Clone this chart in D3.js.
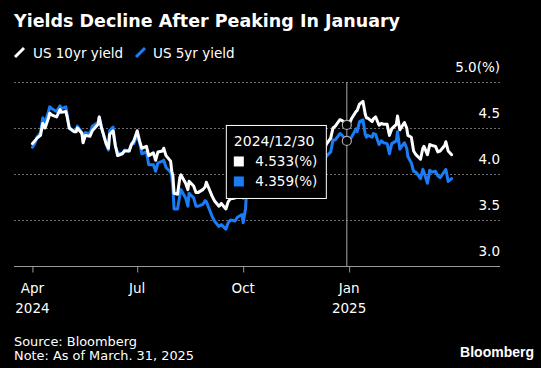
<!DOCTYPE html>
<html><head><meta charset="utf-8">
<script src="https://cdn.jsdelivr.net/npm/d3@7"></script>
<style>html,body{margin:0;padding:0;background:#000;}svg{display:block;}</style>
</head><body>
<script>
const dates = ["2024-04-01","2024-04-03","2024-04-05","2024-04-08","2024-04-10","2024-04-12","2024-04-15","2024-04-16","2024-04-18","2024-04-22","2024-04-25","2024-04-26","2024-04-30","2024-05-01","2024-05-03","2024-05-07","2024-05-09","2024-05-10","2024-05-14","2024-05-15","2024-05-17","2024-05-21","2024-05-23","2024-05-28","2024-05-29","2024-05-31","2024-06-04","2024-06-06","2024-06-07","2024-06-10","2024-06-12","2024-06-14","2024-06-18","2024-06-20","2024-06-24","2024-06-26","2024-06-28","2024-07-01","2024-07-03","2024-07-05","2024-07-09","2024-07-11","2024-07-15","2024-07-17","2024-07-19","2024-07-23","2024-07-24","2024-07-26","2024-07-30","2024-07-31","2024-08-01","2024-08-02","2024-08-05","2024-08-07","2024-08-08","2024-08-12","2024-08-14","2024-08-15","2024-08-19","2024-08-21","2024-08-23","2024-08-27","2024-08-29","2024-08-30","2024-09-04","2024-09-06","2024-09-10","2024-09-12","2024-09-16","2024-09-18","2024-09-20","2024-09-24","2024-09-26","2024-09-30","2024-10-01","2024-10-03","2024-10-04","2024-10-08","2024-10-10","2024-10-15","2024-10-17","2024-10-21","2024-10-23","2024-10-25","2024-10-28","2024-10-31","2024-11-01","2024-11-04","2024-11-06","2024-11-08","2024-11-12","2024-11-14","2024-11-15","2024-11-19","2024-11-21","2024-11-25","2024-11-27","2024-11-29","2024-12-03","2024-12-05","2024-12-06","2024-12-10","2024-12-12","2024-12-16","2024-12-18","2024-12-20","2024-12-24","2024-12-26","2024-12-30","2024-12-31","2025-01-02","2025-01-03","2025-01-07","2025-01-08","2025-01-10","2025-01-13","2025-01-15","2025-01-16","2025-01-17","2025-01-21","2025-01-22","2025-01-24","2025-01-27","2025-01-29","2025-01-31","2025-02-03","2025-02-05","2025-02-07","2025-02-11","2025-02-12","2025-02-14","2025-02-18","2025-02-20","2025-02-21","2025-02-24","2025-02-26","2025-02-28","2025-03-04","2025-03-06","2025-03-07","2025-03-10","2025-03-12","2025-03-14","2025-03-17","2025-03-19","2025-03-21","2025-03-25","2025-03-26","2025-03-28","2025-03-31"];

const us10yr = [4.33,4.36,4.39,4.42,4.55,4.50,4.61,4.66,4.64,4.62,4.70,4.67,4.68,4.63,4.50,4.46,4.46,4.50,4.44,4.34,4.42,4.41,4.47,4.54,4.62,4.50,4.33,4.28,4.43,4.47,4.31,4.20,4.22,4.25,4.25,4.32,4.36,4.47,4.36,4.28,4.30,4.20,4.23,4.15,4.24,4.25,4.28,4.20,4.14,4.03,3.98,3.79,3.78,3.96,3.99,3.90,3.83,3.92,3.87,3.80,3.80,3.83,3.86,3.91,3.76,3.71,3.65,3.68,3.62,3.70,3.73,3.74,3.79,3.78,3.74,3.85,3.98,4.03,4.07,4.03,4.09,4.19,4.24,4.24,4.28,4.28,4.38,4.29,4.43,4.30,4.43,4.43,4.43,4.39,4.42,4.27,4.25,4.18,4.23,4.18,4.15,4.22,4.32,4.39,4.50,4.52,4.59,4.58,4.533,4.57,4.57,4.60,4.68,4.69,4.76,4.79,4.65,4.61,4.61,4.57,4.60,4.62,4.53,4.55,4.54,4.54,4.42,4.49,4.54,4.63,4.48,4.56,4.50,4.42,4.40,4.25,4.21,4.16,4.28,4.30,4.21,4.32,4.31,4.30,4.24,4.25,4.31,4.35,4.25,4.21];

const us5yr = [4.29,4.33,4.40,4.45,4.61,4.56,4.68,4.73,4.71,4.68,4.74,4.71,4.73,4.66,4.50,4.47,4.48,4.52,4.45,4.35,4.45,4.44,4.52,4.56,4.62,4.51,4.33,4.26,4.47,4.51,4.30,4.23,4.22,4.26,4.25,4.33,4.33,4.43,4.34,4.22,4.24,4.10,4.10,4.03,4.12,4.14,4.15,4.07,4.02,3.97,3.84,3.62,3.62,3.77,3.83,3.74,3.65,3.79,3.74,3.65,3.65,3.67,3.71,3.70,3.54,3.49,3.43,3.45,3.40,3.47,3.50,3.49,3.53,3.56,3.47,3.62,3.81,3.87,3.92,3.85,3.92,4.02,4.07,4.05,4.12,4.16,4.21,4.11,4.29,4.19,4.31,4.29,4.29,4.23,4.29,4.14,4.09,4.05,4.09,4.04,4.03,4.10,4.19,4.24,4.37,4.37,4.44,4.42,4.359,4.38,4.38,4.40,4.49,4.46,4.57,4.59,4.43,4.40,4.42,4.40,4.44,4.43,4.32,4.36,4.34,4.33,4.22,4.33,4.36,4.46,4.27,4.34,4.28,4.19,4.12,4.03,4.02,3.95,4.05,4.02,3.90,4.04,4.02,4.03,3.98,3.96,4.03,4.05,3.92,3.95];

const seriesNames = ["US 10yr yield","US 5yr yield"];
const yTicks = [3.0,3.5,4.0,4.5,5.0];
const xTickDates = ["2024-04-01","2024-07-01","2024-10-01","2025-01-01"];
const xTickLabels = [["Apr","2024"],["Jul",""],["Oct",""],["Jan","2025"]];
const hoverDate = "2024-12-30";
const hoverLabel = "2024/12/30";
const hoverValues = [4.533,4.359];

const W = 541, H = 368;
const parse = d3.utcParse("%Y-%m-%d");
const colors = ["#ffffff","#1a7df7"];
const font = "'DejaVu Sans', sans-serif";

const svg = d3.select("body").append("svg").attr("width",W).attr("height",H);
svg.append("rect").attr("width",W).attr("height",H).attr("fill","#000");

const x = d3.scaleUtc().domain([parse("2024-03-16"), parse("2025-05-12")]).range([14,500]);
const y = d3.scaleLinear().domain([3,5]).range([266,82]);

// title
svg.append("text").attr("x",14).attr("y",26.5).text("Yields Decline After Peaking In January")
  .attr("fill","#fff").attr("font-family",font).attr("font-weight","bold").attr("font-size",18.5)
  .attr("textLength",386).attr("lengthAdjust","spacingAndGlyphs");

// legend
const legX = [14,135], legTextX = [33,153];
seriesNames.forEach((n,i)=>{
  svg.append("line").attr("x1",legX[i]+1).attr("y1",57).attr("x2",legX[i]+10).attr("y2",48)
    .attr("stroke",colors[i]).attr("stroke-width",3);
  svg.append("text").attr("x",legTextX[i]).attr("y",58).text(n).attr("fill","#fff")
    .attr("font-family",font).attr("font-size",13.5);
});

// grid
svg.append("g").selectAll("line").data(yTicks.filter(t=>t>3)).join("line")
  .attr("x1",14).attr("x2",500).attr("y1",d=>Math.round(y(d))+0.5).attr("y2",d=>Math.round(y(d))+0.5)
  .attr("stroke","#6e6e6e").attr("stroke-width",1).attr("stroke-dasharray","2,2");

// y labels
svg.append("g").selectAll("text").data(yTicks).join("text")
  .attr("x",500).attr("y",d=>y(d)-10).attr("text-anchor","end")
  .text(d=> d===5 ? d3.format(".1f")(d)+"(%)" : d3.format(".1f")(d))
  .attr("fill","#fff").attr("font-family",font).attr("font-size",13.5);

// x axis
const xAxis = d3.axisBottom(x).tickValues(xTickDates.map(parse)).tickSize(6).tickFormat("");
const gx = svg.append("g").attr("transform","translate(0,"+(Math.round(y(3))+0.5)+")").call(xAxis);
gx.select(".domain").attr("stroke","#999").attr("d","M14,0H500");
gx.selectAll(".tick line").attr("stroke","#999");
xTickDates.forEach((d,i)=>{
  const t = svg.append("text").attr("x",x(parse(d))).attr("text-anchor","middle")
    .attr("fill","#fff").attr("font-family",font).attr("font-size",13.5);
  t.append("tspan").attr("x",x(parse(d))).attr("y",293).text(xTickLabels[i][0]);
  if (xTickLabels[i][1]) t.append("tspan").attr("x",x(parse(d))).attr("y",313).text(xTickLabels[i][1]);
});

// hover line
const hx = x(parse(hoverDate));
svg.append("line").attr("x1",hx).attr("x2",hx).attr("y1",y(5)).attr("y2",y(3))
  .attr("stroke","#aaa").attr("stroke-width",1);

// series lines (blue below white)
const line = d3.line().x((d,i)=>x(parse(dates[i]))).y(d=>y(d)).curve(d3.curveLinear);
[us5yr, us10yr].forEach((s,k)=>{
  svg.append("path").attr("d",line(s)).attr("fill","none")
    .attr("stroke", k===0?colors[1]:colors[0]).attr("stroke-width",3)
    .attr("stroke-linejoin","round").attr("stroke-linecap","round");
});

// hover circles
hoverValues.forEach(v=>{
  svg.append("circle").attr("cx",hx).attr("cy",y(v)).attr("r",4.5)
    .attr("fill","#000").attr("stroke","#aaa").attr("stroke-width",1.2);
});

// tooltip
const bx = hx - 120.5, by = y(hoverValues[0]) + 0.5;
svg.append("rect").attr("x",bx).attr("y",by).attr("width",100).attr("height",73)
  .attr("fill","#000").attr("stroke","#fff").attr("stroke-width",1);
svg.append("text").attr("x",bx+7.5).attr("y",by+21).text(hoverLabel).attr("fill","#fff")
  .attr("font-family",font).attr("font-size",14);
hoverValues.forEach((v,i)=>{
  svg.append("rect").attr("x",bx+7.5).attr("y",by+31+i*20).attr("width",10).attr("height",10).attr("fill",colors[i]);
  svg.append("text").attr("x",bx+29).attr("y",by+41+i*20).text(d3.format(".3f")(v)+"(%)")
    .attr("fill","#fff").attr("font-family",font).attr("font-size",13.5);
});

// footer
svg.append("text").attr("x",14).attr("y",346).text("Source: Bloomberg").attr("fill","#fff")
  .attr("font-family",font).attr("font-size",13).attr("textLength",123).attr("lengthAdjust","spacingAndGlyphs");
svg.append("text").attr("x",14).attr("y",360).text("Note: As of March. 31, 2025").attr("fill","#fff")
  .attr("font-family",font).attr("font-size",13).attr("textLength",180).attr("lengthAdjust","spacingAndGlyphs");
svg.append("text").attr("x",534).attr("y",357).attr("text-anchor","end").text("Bloomberg").attr("fill","#fff")
  .attr("font-family","'Liberation Sans', Arial, sans-serif").attr("font-weight","bold").attr("font-size",14);
</script>
</body></html>
